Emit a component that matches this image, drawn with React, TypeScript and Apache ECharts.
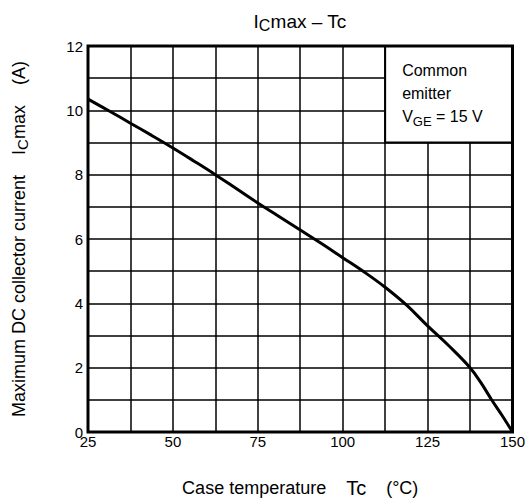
import { useEffect, useRef } from "react";
import * as echarts from "echarts";

// Derating curve: maximum DC collector current vs. case temperature
const tempC = [
  25, 31.25, 37.5, 43.75, 50, 56.25, 62.5, 68.75, 75, 81.25, 87.5, 93.75, 100,
  106.25, 112.5, 118.75, 125, 131.25, 137.5, 140.6, 143.75, 146.9, 150,
];
const icMax = [
  10.35, 9.98, 9.6, 9.22, 8.83, 8.42, 8.0, 7.56, 7.12, 6.7, 6.28, 5.86, 5.42,
  4.98, 4.5, 3.95, 3.3, 2.68, 2.0, 1.55, 1.02, 0.52, 0,
];

// Labelled ticks (grid lines fall on every half step)
const xTickLabels = [25, 50, 75, 100, 125, 150];
const yTickLabels = [0, 2, 4, 6, 8, 10, 12];

// Condition note box, in data coordinates
const noteX = [112.5, 150];
const noteY = [9, 12];
const noteLines = ["Common", "emitter", "V{sub|GE} = 15 V"];

const FONT = "'Liberation Sans', Arial, Helvetica, sans-serif";

const option: any = {
  animation: false,
  backgroundColor: "#fff",
  textStyle: { fontFamily: FONT, color: "#000" },
  title: {
    text: "I{sub|C}max – Tc",
    left: 300,
    top: 9,
    textAlign: "center",
    padding: 0,
    textStyle: {
      fontFamily: FONT,
      fontSize: 19,
      fontWeight: "normal",
      color: "#000",
      lineHeight: 24,
      rich: {
        sub: { fontFamily: FONT, fontSize: 16, color: "#000", verticalAlign: "bottom", lineHeight: 14 },
      },
    },
  },
  grid: {
    left: 87,
    right: 15,
    top: 46,
    bottom: 72,
    show: true,
    z: 5,
    backgroundColor: "transparent",
    borderColor: "#000",
    borderWidth: 3,
  },
  xAxis: {
    type: "value",
    min: 25,
    max: 150,
    interval: 12.5,
    axisLine: { show: false },
    axisTick: { show: false },
    splitLine: { show: true, lineStyle: { color: "#000", width: 1.5 } },
    axisLabel: {
      margin: 2,
      fontSize: 15,
      color: "#000",
      fontFamily: FONT,
      formatter: (v: number) => (xTickLabels.includes(v) ? String(v) : ""),
    },
    name: "Case temperature    {tc|Tc}    (°C)",
    nameLocation: "middle",
    nameGap: 46,
    nameTextStyle: {
      fontFamily: FONT,
      fontSize: 18,
      color: "#000",
      rich: { tc: { fontFamily: FONT, fontSize: 20, color: "#000" } },
    },
  },
  yAxis: {
    type: "value",
    min: 0,
    max: 12,
    interval: 1,
    axisLine: { show: false },
    axisTick: { show: false },
    splitLine: { show: true, lineStyle: { color: "#000", width: 1.5 } },
    axisLabel: {
      margin: 5,
      fontSize: 15,
      color: "#000",
      fontFamily: FONT,
      formatter: (v: number) => (yTickLabels.includes(v) ? String(v) : ""),
    },
    name: "Maximum DC collector current    I{sub|C}max    (A)",
    nameLocation: "middle",
    nameGap: 58,
    nameTextStyle: {
      fontFamily: FONT,
      fontSize: 18,
      color: "#000",
      lineHeight: 22,
      rich: {
        sub: { fontFamily: FONT, fontSize: 15, color: "#000", verticalAlign: "bottom", lineHeight: 14 },
      },
    },
  },
  series: [
    {
      type: "line",
      data: tempC.map((t, i) => [t, icMax[i]]),
      showSymbol: false,
      smooth: 0.4,
      lineStyle: { color: "#000", width: 3 },
      markArea: {
        silent: true,
        itemStyle: { color: "#fff", borderColor: "#000", borderWidth: 2 },
        label: {
          show: true,
          position: [18, 14],
          color: "#000",
          fontFamily: FONT,
          fontSize: 16,
          lineHeight: 23,
          formatter: noteLines.join("\n"),
          rich: {
            sub: { fontFamily: FONT, fontSize: 13, color: "#000", verticalAlign: "bottom", lineHeight: 16 },
          },
        },
        data: [[{ coord: [noteX[0], noteY[1]] }, { coord: [noteX[1], noteY[0]] }]],
      },
    },
  ],
};

export default function App() {
  const ref = useRef<HTMLDivElement>(null);
  useEffect(() => {
    const chart = echarts.init(ref.current!, null, { renderer: "svg" });
    chart.setOption(option);
    return () => chart.dispose();
  }, []);
  return (
    <div
      ref={ref}
      style={{ position: "fixed", left: 0, top: 0, width: 528, height: 504, background: "#fff" }}
    />
  );
}
